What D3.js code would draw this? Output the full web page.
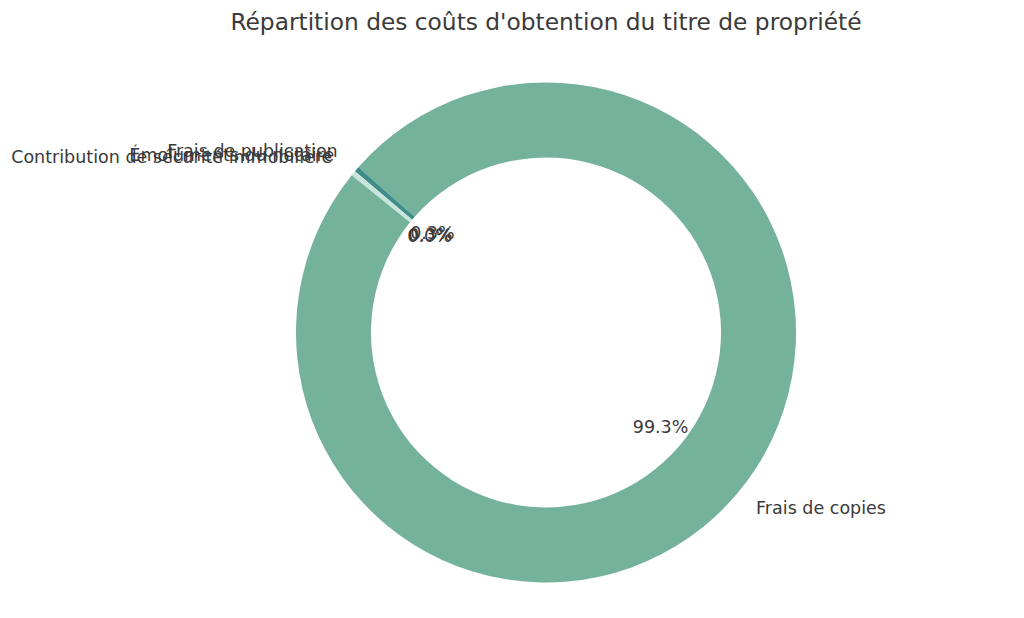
<!DOCTYPE html>
<html><head><meta charset="utf-8">
<script src="https://cdn.jsdelivr.net/npm/d3@7"></script>
<style>body{margin:0;background:#fff}svg{display:block}text{font-family:"DejaVu Sans",sans-serif;fill:#3a3a3a}</style>
</head><body>
<svg id="c" width="1024" height="618"></svg>
<script>
const categories = ["Frais de copies","Frais de publication","Émoluments du notaire","Contribution de sécurité immobilière"];
const shares = [99.34, 0.34, 0.30, 0.02];
const colors = ["#75b29c","#3f8d89","#c9e4d9","#9ed0bf"];
const title = "Répartition des coûts d'obtention du titre de propriété";

const W=1024,H=618, cx=546, cy=332.5, R=250, inner=R*0.7;
const svg=d3.select("#c");
const g=svg.append("g").attr("transform",`translate(${cx},${cy})`);
const startDeg=141; // matplotlib startangle, counterclockwise
const s0=(90-startDeg)*Math.PI/180;
const pie=d3.pie().sort(null).value(d=>d.v).startAngle(s0).endAngle(s0-2*Math.PI);
const data=categories.map((c,i)=>({c,v:shares[i],col:colors[i]}));
const arcs=pie(data);
const arc=d3.arc().innerRadius(inner).outerRadius(R);
g.selectAll("path").data(arcs).join("path").attr("d",arc).attr("fill",d=>d.data.col);
const pos=(d,r)=>{const m=(d.startAngle+d.endAngle)/2;return [r*Math.sin(m),-r*Math.cos(m)];};
g.selectAll("text.lab").data(arcs).join("text").attr("class","lab")
 .attr("x",d=>pos(d,R*1.1)[0]).attr("y",d=>pos(d,R*1.1)[1]-2)
 .attr("text-anchor",d=>pos(d,1)[0]>0?"start":"end").attr("dominant-baseline","central")
 .style("font-size","17.5px").text(d=>d.data.c);
const total=d3.sum(shares);
g.selectAll("text.pct").data(arcs).join("text").attr("class","pct")
 .attr("x",d=>pos(d,R*0.6)[0]).attr("y",d=>pos(d,R*0.6)[1]-2)
 .attr("text-anchor","middle").attr("dominant-baseline","central")
 .style("font-size","17.5px").text(d=>d3.format(".1f")(d.data.v/total*100)+"%");
svg.append("text").attr("x",cx).attr("y",21).attr("text-anchor","middle").attr("dominant-baseline","central")
 .style("font-size","23.3px").text(title);
</script></body></html>
